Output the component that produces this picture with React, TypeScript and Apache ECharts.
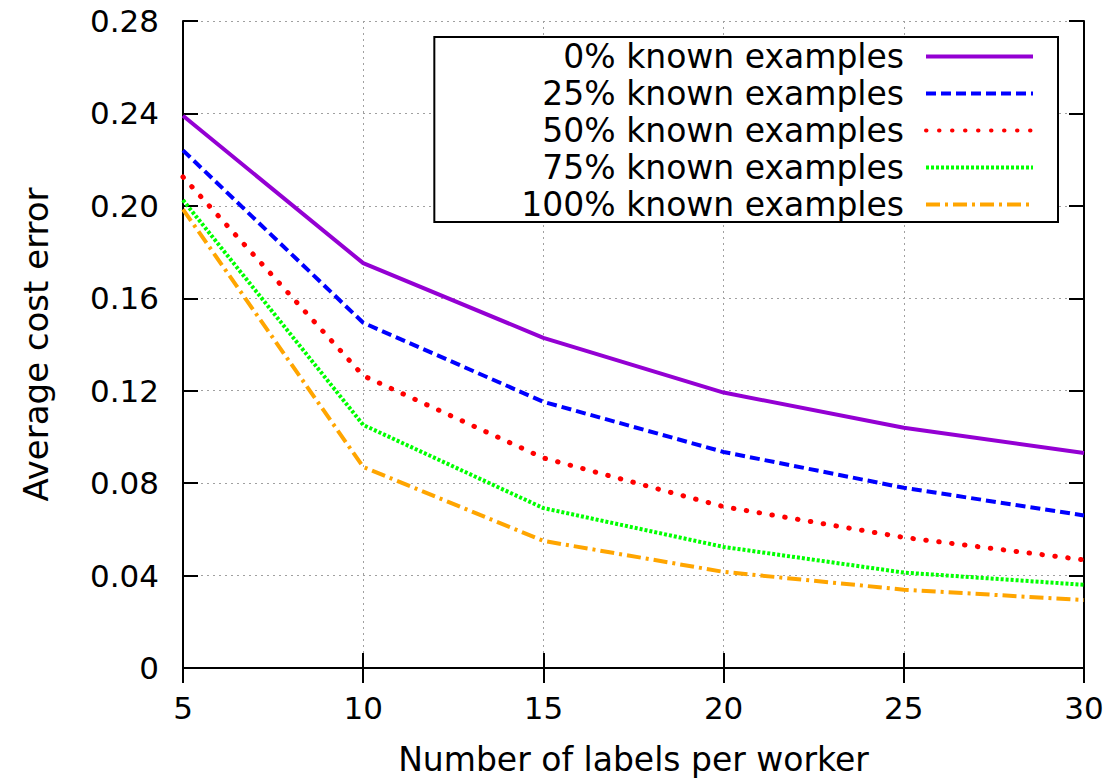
import React, { useEffect, useRef } from "react";
import * as echarts from "echarts";

const xValues = [5, 10, 15, 20, 25, 30];
const seriesNames = [
  "0% known examples",
  "25% known examples",
  "50% known examples",
  "75% known examples",
  "100% known examples",
];
const known0 = [0.239, 0.1752, 0.1429, 0.1192, 0.104, 0.093];
const known25 = [0.224, 0.1494, 0.1152, 0.0935, 0.078, 0.066];
const known50 = [0.2125, 0.1265, 0.0909, 0.0698, 0.0565, 0.0468];
const known75 = [0.2025, 0.1052, 0.0692, 0.0524, 0.0413, 0.036];
const known100 = [0.1985, 0.087, 0.055, 0.0416, 0.0339, 0.0294];

const FONT = "DejaVu Sans";

export default function App() {
  const ref = useRef<HTMLDivElement>(null);
  useEffect(() => {
    if (!ref.current) return;
    const chart = echarts.init(ref.current, undefined, { renderer: "svg" });
    const styles = [
      { color: "#9400d3", type: "solid" as any },
      { color: "#0000ff", type: [10, 5] },
      { color: "#ff0000", type: [0.5, 12.5], cap: "round" },
      { color: "#00ff00", type: [3, 2] },
      { color: "#ffa500", type: [14, 5, 3, 5] },
    ];
    const datasets = [known0, known25, known50, known75, known100];
    const series = datasets.map((d, i) => ({
      name: seriesNames[i],
      type: "line",
      symbol: "none",
      data: d.map((v, j) => [xValues[j], v]),
      lineStyle: {
        color: styles[i].color,
        width: i === 2 ? 5 : 4,
        type: styles[i].type,
        cap: (styles[i] as any).cap || "butt",
      },
      itemStyle: { color: styles[i].color },
      z: 10 - i,
    }));
    const axisLine = { show: true, lineStyle: { color: "#000", width: 2 } };
    const tick = { show: true, inside: true, length: 15, lineStyle: { color: "#000", width: 2 } };
    const split = { show: true, lineStyle: { color: "#a0a0a0", width: 1, type: [2, 4] } };
    chart.setOption({
      animation: false,
      backgroundColor: "#fff",
      grid: { left: 183, right: 24, top: 21, bottom: 115, containLabel: false },
      legend: {
        orient: "vertical",
        right: 50,
        top: 37,
        align: "right",
        data: seriesNames,
        itemWidth: 107,
        itemHeight: 30,
        itemGap: 4,
        padding: [3, 23, 1, 87],
        backgroundColor: "#fff",
        borderColor: "#000",
        borderWidth: 2,
        borderRadius: 0,
        itemStyle: { opacity: 0 },
        lineStyle: { width: 4 },
        textStyle: {
          fontFamily: FONT,
          fontSize: 33,
          color: "#000",
          lineHeight: 30,
          padding: [0, 17, 0, 0],
        },
        selectedMode: false,
      },
      xAxis: [
        {
          type: "value",
          min: 5,
          max: 30,
          interval: 5,
          name: "Number of labels per worker",
          nameLocation: "middle",
          nameGap: 75,
          nameTextStyle: { fontFamily: FONT, fontSize: 33, color: "#000" },
          axisLine,
          axisTick: tick,
          splitLine: split,
          axisLabel: { fontFamily: FONT, fontSize: 31, color: "#000", margin: 24 },
        },
        {
          type: "value",
          position: "top",
          min: 5,
          max: 30,
          interval: 5,
          axisLine,
          axisTick: tick,
          splitLine: { show: false },
          axisLabel: { show: false },
        },
      ],
      yAxis: [
        {
          type: "value",
          min: 0,
          max: 0.28,
          interval: 0.04,
          name: "Average cost error",
          nameLocation: "middle",
          nameRotate: 90,
          nameGap: 130,
          nameTextStyle: { fontFamily: FONT, fontSize: 34, color: "#000" },
          axisLine,
          axisTick: tick,
          splitLine: split,
          axisLabel: {
            fontFamily: FONT,
            fontSize: 31,
            color: "#000",
            margin: 24,
            formatter: (v: number) => (v === 0 ? "0" : v.toFixed(2)),
          },
        },
        {
          type: "value",
          position: "right",
          min: 0,
          max: 0.28,
          interval: 0.04,
          axisLine,
          axisTick: tick,
          splitLine: { show: false },
          axisLabel: { show: false },
        },
      ],
      series,
    });
    return () => chart.dispose();
  }, []);
  return (
    <div
      ref={ref}
      style={{ position: "fixed", left: 0, top: 0, width: 1108, height: 783 }}
    />
  );
}
